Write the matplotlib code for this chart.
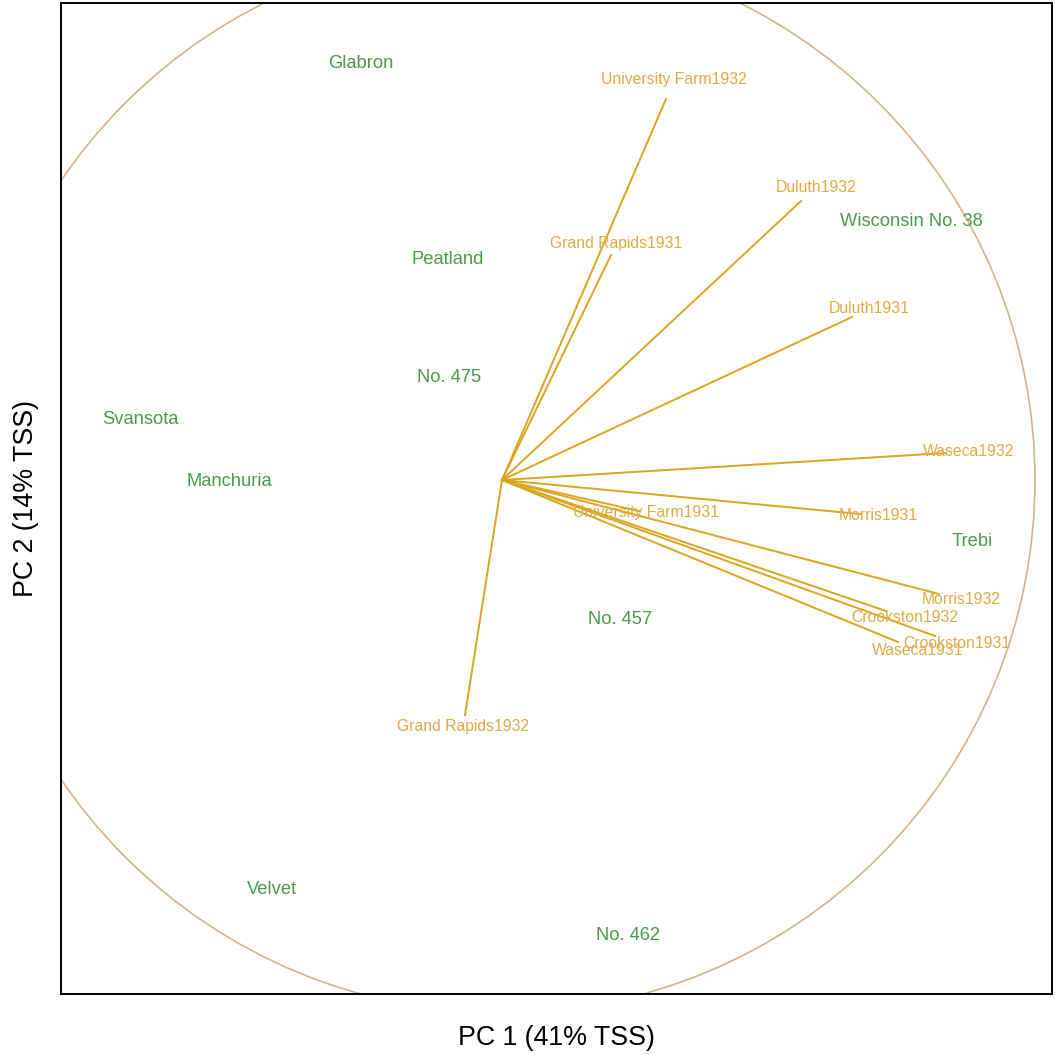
import numpy as np
import matplotlib.pyplot as plt
from matplotlib.patches import Circle

plt.rcParams['font.family'] = ['Liberation Sans', 'DejaVu Sans']

# genotype scores (PC1, PC2)
genotypes = ['Glabron', 'Peatland', 'No. 475', 'Svansota', 'Manchuria',
             'Wisconsin No. 38', 'Trebi', 'No. 457', 'Velvet', 'No. 462']
geno_pc1 = [-1.41, -0.54, -0.53, -3.62, -2.73, 4.09, 4.70, 1.18, -2.30, 1.26]
geno_pc2 = [4.17, 2.20, 1.03, 0.61, -0.01, 2.59, -0.61, -1.39, -4.09, -4.56]

# environment vectors (PC1, PC2)
environments = ['University Farm1932', 'Duluth1932', 'Grand Rapids1931', 'Duluth1931',
                'Waseca1932', 'Morris1931', 'University Farm1931', 'Morris1932',
                'Crookston1932', 'Crookston1931', 'Waseca1931', 'Grand Rapids1932']
env_pc1 = [1.64, 2.99, 1.09, 3.50, 4.44, 3.58, 1.37, 4.37, 3.84, 4.33, 3.96, -0.37]
env_pc2 = [3.81, 2.79, 2.25, 1.63, 0.27, -0.34, -0.31, -1.14, -1.31, -1.56, -1.62, -2.35]

circle_radius = 5.33
x_label = 'PC 1 (41% TSS)'
y_label = 'PC 2 (14% TSS)'

fig = plt.figure(figsize=(10.55, 10.55), dpi=100)
ax = fig.add_axes([61 / 1055, 61 / 1055, 991 / 1055, 991 / 1055])

ax.add_patch(Circle((0, 0), circle_radius, fill=False, ec='#D2B48C', lw=1.2, zorder=1))

for name, x, y in zip(environments, env_pc1, env_pc2):
    ax.plot([0, x], [0, y], color='#DAA520', lw=1.4, zorder=2)
    ax.text(x * 1.05, y * 1.05, name, color='#E2A943', fontsize=11.3,
            ha='center', va='center', zorder=3)

for name, x, y in zip(genotypes, geno_pc1, geno_pc2):
    ax.text(x, y, name, color='#4A9A4A', fontsize=13.2, ha='center', va='center', zorder=3)

ax.set_xlim(-4.41, 5.50)
ax.set_ylim(-5.14, 4.77)
ax.set_aspect('equal')
ax.set_xticks([])
ax.set_yticks([])
for s in ax.spines.values():
    s.set_linewidth(1.4)
ax.set_xlabel(x_label, fontsize=19.3, labelpad=22)
ax.set_ylabel(y_label, fontsize=19.3, labelpad=16)

fig.savefig('out.png', dpi=100)
